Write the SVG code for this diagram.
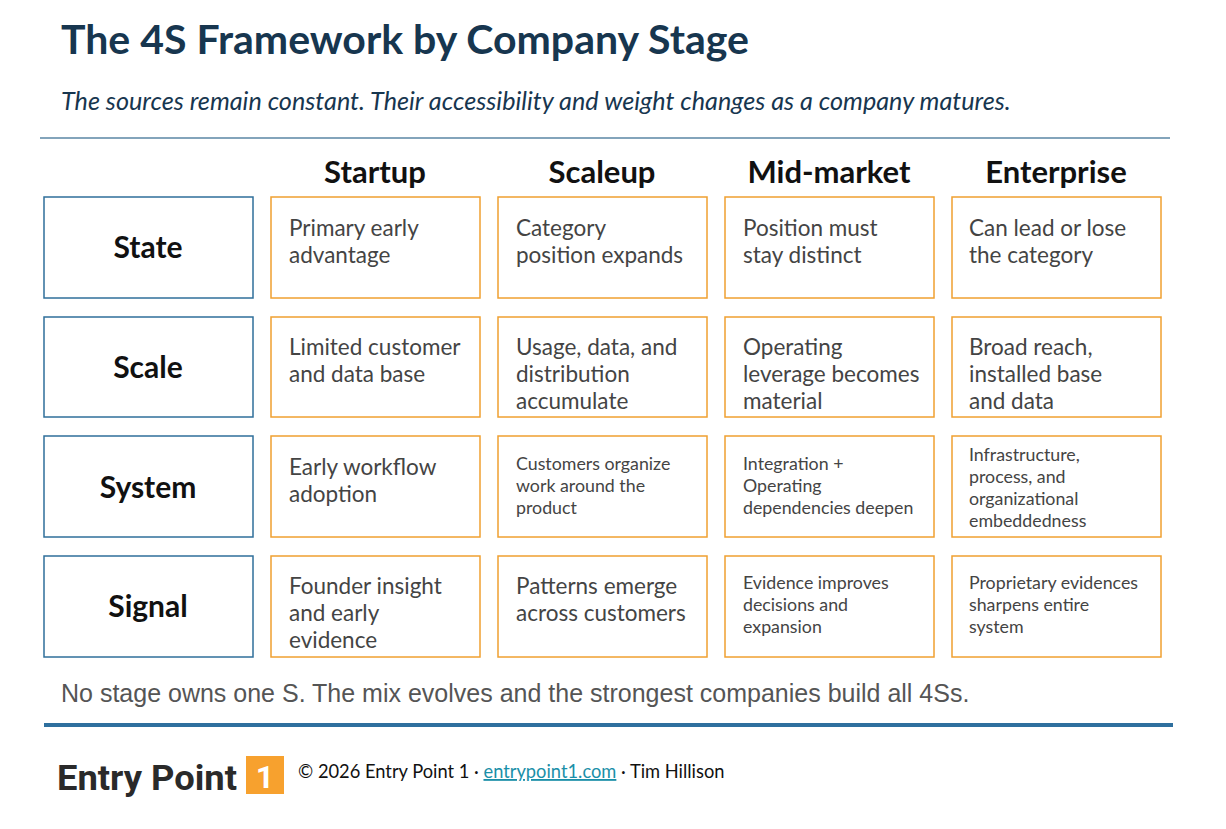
<svg xmlns="http://www.w3.org/2000/svg" width="1226" height="829" viewBox="0 0 1226 829">
<style>
text{font-family:Lato,"Open Sans",sans-serif}
.rl{fill:#fff;stroke:#2f6f9a;stroke-width:1.5}
.c{fill:#fff;stroke:#f0a030;stroke-width:1.5}
.rt{font-size:30px;font-weight:bold;fill:#111;text-anchor:middle}
.h{font-size:31px;font-weight:bold;fill:#111;text-anchor:middle}
.t{font-size:22.5px;fill:#444}
.s{font-size:17.8px;fill:#444}
</style>
<rect width="1226" height="829" fill="#fff"/>
<text x="61" y="54" font-size="41" font-weight="bold" fill="#17364f">The 4S Framework by Company Stage</text>
<text x="61" y="110" font-size="25.2" font-style="italic" fill="#17364f">The sources remain constant. Their accessibility and weight changes as a company matures.</text>
<line x1="40" y1="138" x2="1170" y2="138" stroke="#5a86a5" stroke-width="1.5"/>
<g id="headers">
<text class="h" x="375" y="183">Startup</text>
<text class="h" x="602" y="183">Scaleup</text>
<text class="h" x="829" y="183">Mid-market</text>
<text class="h" x="1056" y="183">Enterprise</text>
</g>
<g id="row-state">
<rect class="rl" x="44" y="197" width="209" height="101"/><text class="rt" x="148" y="258">State</text>
<rect class="c" x="271" y="197" width="209" height="101"/><text class="t" x="289" y="236">Primary early<tspan x="289" dy="27">advantage</tspan></text>
<rect class="c" x="498" y="197" width="209" height="101"/><text class="t" x="516" y="236">Category<tspan x="516" dy="27">position expands</tspan></text>
<rect class="c" x="725" y="197" width="209" height="101"/><text class="t" x="743" y="236">Position must<tspan x="743" dy="27">stay distinct</tspan></text>
<rect class="c" x="952" y="197" width="209" height="101"/><text class="t" x="969" y="236">Can lead or lose<tspan x="969" dy="27">the category</tspan></text>
</g>
<g id="row-scale">
<rect class="rl" x="44" y="317" width="209" height="100"/><text class="rt" x="148" y="378">Scale</text>
<rect class="c" x="271" y="317" width="209" height="100"/><text class="t" x="289" y="355">Limited customer<tspan x="289" dy="27">and data base</tspan></text>
<rect class="c" x="498" y="317" width="209" height="100"/><text class="t" x="516" y="355">Usage, data, and<tspan x="516" dy="27">distribution</tspan><tspan x="516" dy="27">accumulate</tspan></text>
<rect class="c" x="725" y="317" width="209" height="100"/><text class="t" x="743" y="355">Operating<tspan x="743" dy="27">leverage becomes</tspan><tspan x="743" dy="27">material</tspan></text>
<rect class="c" x="952" y="317" width="209" height="100"/><text class="t" x="969" y="355">Broad reach,<tspan x="969" dy="27">installed base</tspan><tspan x="969" dy="27">and data</tspan></text>
</g>
<g id="row-system">
<rect class="rl" x="44" y="436" width="209" height="101"/><text class="rt" x="148" y="498">System</text>
<rect class="c" x="271" y="436" width="209" height="101"/><text class="t" x="289" y="475">Early workflow<tspan x="289" dy="27">adoption</tspan></text>
<rect class="c" x="498" y="436" width="209" height="101"/><text class="s" x="516" y="470">Customers organize<tspan x="516" dy="22">work around the</tspan><tspan x="516" dy="22">product</tspan></text>
<rect class="c" x="725" y="436" width="209" height="101"/><text class="s" x="743" y="470">Integration +<tspan x="743" dy="22">Operating</tspan><tspan x="743" dy="22">dependencies deepen</tspan></text>
<rect class="c" x="952" y="436" width="209" height="101"/><text class="s" x="969" y="461">Infrastructure,<tspan x="969" dy="22">process, and</tspan><tspan x="969" dy="22">organizational</tspan><tspan x="969" dy="22">embeddedness</tspan></text>
</g>
<g id="row-signal">
<rect class="rl" x="44" y="556" width="209" height="101"/><text class="rt" x="148" y="617">Signal</text>
<rect class="c" x="271" y="556" width="209" height="101"/><text class="t" x="289" y="594">Founder insight<tspan x="289" dy="27">and early</tspan><tspan x="289" dy="27">evidence</tspan></text>
<rect class="c" x="498" y="556" width="209" height="101"/><text class="t" x="516" y="594">Patterns emerge<tspan x="516" dy="27">across customers</tspan></text>
<rect class="c" x="725" y="556" width="209" height="101"/><text class="s" x="743" y="589">Evidence improves<tspan x="743" dy="22">decisions and</tspan><tspan x="743" dy="22">expansion</tspan></text>
<rect class="c" x="952" y="556" width="209" height="101"/><text class="s" x="969" y="589">Proprietary evidences<tspan x="969" dy="22">sharpens entire</tspan><tspan x="969" dy="22">system</tspan></text>
</g>
<g id="connectors"></g>
<text x="61" y="702" style="font-family:'Liberation Sans',Arial,sans-serif;font-size:25px" fill="#555">No stage owns one S. The mix evolves and the strongest companies build all 4Ss.</text>
<line x1="44" y1="725" x2="1173" y2="725" stroke="#2e6f9e" stroke-width="4"/>
<g id="logo">
<text x="57" y="790" style="font-family:Roboto,sans-serif;font-size:35px;font-weight:bold" fill="#2a2a2a" textLength="180" lengthAdjust="spacingAndGlyphs">Entry Point</text>
<rect x="246" y="756" width="38" height="38" fill="#f7a12e"/>
<text x="265" y="788" style="font-family:Roboto,sans-serif;font-size:32px;font-weight:bold" fill="#fff" text-anchor="middle">1</text>
</g>
<text x="298" y="778" font-size="18.3" fill="#111">© 2026 Entry Point 1 · <tspan fill="#1a8fa8" text-decoration="underline">entrypoint1.com</tspan> · Tim Hillison</text>
</svg>
